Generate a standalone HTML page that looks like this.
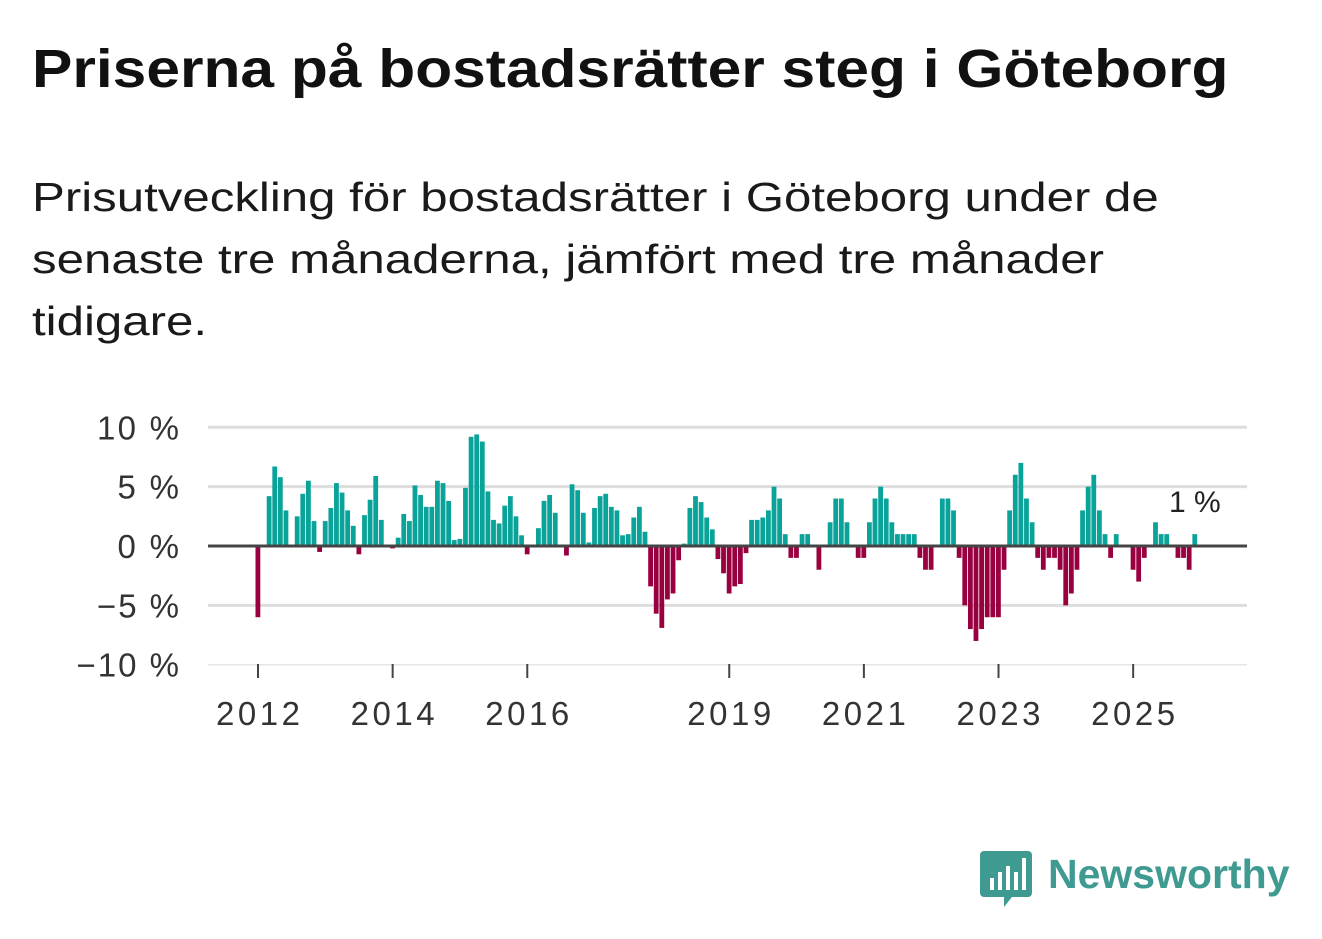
<!DOCTYPE html>
<html><head><meta charset="utf-8">
<style>
body{margin:0;background:#fff;width:1322px;height:939px;overflow:hidden;font-family:"Liberation Sans",sans-serif;color:#111}
h1{position:absolute;left:32px;top:38px;margin:0;font-size:54px;font-weight:700;transform:scaleX(1.12);transform-origin:left top;white-space:nowrap}
.sub{position:absolute;left:32px;top:166px;margin:0;font-size:41px;line-height:62px;width:1200px;color:#1a1a1a;transform:scaleX(1.2);transform-origin:left top;white-space:nowrap}
svg{position:absolute;left:0;top:0}
</style></head><body>
<h1>Priserna på bostadsrätter steg i Göteborg</h1>
<p class="sub">Prisutveckling för bostadsrätter i Göteborg under de<br>senaste tre månaderna, jämfört med tre månader<br>tidigare.</p>
<svg id="chart" width="1322" height="939"></svg>
<script>
const values = [-6,0,4.2,6.7,5.8,3.0,0,2.5,4.4,5.5,2.1,-0.5,
2.1,3.2,5.3,4.5,3.0,1.7,-0.7,2.6,3.9,5.9,2.2,0,
-0.2,0.7,2.7,2.1,5.1,4.3,3.3,3.3,5.5,5.3,3.8,0.5,
0.6,4.9,9.2,9.4,8.8,4.6,2.2,1.9,3.4,4.2,2.5,0.9,
-0.7,0,1.5,3.8,4.3,2.8,0,-0.8,5.2,4.7,2.8,0.3,
3.2,4.2,4.4,3.3,3.0,0.9,1.0,2.4,3.3,1.2,-3.4,-5.7,
-6.9,-4.5,-4.0,-1.2,0.2,3.2,4.2,3.7,2.4,1.4,-1.1,-2.3,
-4.0,-3.4,-3.2,-0.6,2.2,2.2,2.4,3.0,5.0,4.0,1.0,-1.0,
-1.0,1.0,1.0,0,-2.0,0,2.0,4.0,4.0,2.0,0,-1.0,
-1.0,2.0,4.0,5.0,4.0,2.0,1.0,1.0,1.0,1.0,-1.0,-2.0,
-2.0,0,4.0,4.0,3.0,-1.0,-5.0,-7.0,-8.0,-7.0,-6.0,-6.0,
-6.0,-2.0,3.0,6.0,7.0,4.0,2.0,-1.0,-2.0,-1.0,-1.0,-2.0,
-5.0,-4.0,-2.0,3.0,5.0,6.0,3.0,1.0,-1.0,1.0,0,0,
-2.0,-3.0,-1.0,0,2.0,1.0,1.0,0,-1.0,-1.0,-2.0,1.0];
const yTicks = [10,5,0,-5,-10];
const yTickLabels = ["10 %","5 %","0 %","−5 %","−10 %"];
const xTickYears = [2012,2014,2016,2019,2021,2023,2025];
const startYear = 2012;
const lastLabel = "1 %";

const NS="http://www.w3.org/2000/svg";
const svg=document.getElementById('chart');
const X0=258, MONTH=5.61, Y0=546, PER=11.87, L=208, R=1247;
const xm=i=>X0+i*MONTH;
const y=v=>Y0-v*PER;
function el(t,a){const e=document.createElementNS(NS,t);for(const k in a)e.setAttribute(k,a[k]);svg.appendChild(e);return e;}
yTicks.forEach((t,i)=>{
  if(t!==0){const g=el('line',{x1:L,x2:R,y1:y(t),y2:y(t),stroke:t===-10?'#e6e6e6':'#dddddd','stroke-width':t===-10?1.5:3});
  
  }
  const tx=el('text',{x:179,y:y(t)+12,'text-anchor':'end','font-size':33,fill:'#333','font-family':'Liberation Sans, sans-serif'});
  tx.textContent=yTickLabels[i];
  tx.setAttribute('textLength',yTickLabels[i].length*20.5);
  
  
});
values.forEach((v,i)=>{
  if(v===0)return;
  const r=el('rect',{x:xm(i)-2.5,width:4.8,y:v>0?y(v):Y0,height:Math.abs(v)*PER,fill:v>0?'#0aa39a':'#980040'});
  
  
});
const z=el('line',{x1:L,x2:R,y1:Y0,y2:Y0,stroke:'#444','stroke-width':3});


xTickYears.forEach(yr=>{
  const x=xm((yr-startYear)*12);
  const t=el('line',{x1:x,x2:x,y1:664,y2:678,stroke:'#444','stroke-width':2});
  
  
  const tx=el('text',{x:x-42,y:725,'font-size':33,fill:'#333','font-family':'Liberation Sans, sans-serif',textLength:84});
  tx.textContent=yr;
  
  
});
const li=values.length-1;
const lab=el('text',{x:xm(li),y:y(values[li])-22,'text-anchor':'middle','font-size':30,fill:'#222',stroke:'#fff','stroke-width':6,'paint-order':'stroke','font-family':'Liberation Sans, sans-serif'});
lab.textContent=lastLabel;


</script>
<svg width="1322" height="939">
  <path d="M984 851 h44 a4 4 0 0 1 4 4 v38 a4 4 0 0 1 -4 4 h-16 l-8 10 v-10 h-20 a4 4 0 0 1 -4 -4 v-38 a4 4 0 0 1 4 -4z" fill="#3f9a92"/>
  <rect x="990" y="878" width="4" height="12" fill="#fff"/>
  <rect x="998" y="872" width="4" height="18" fill="#fff"/>
  <rect x="1006" y="866" width="4" height="24" fill="#fff"/>
  <rect x="1014" y="872" width="4" height="18" fill="#fff"/>
  <rect x="1022" y="858" width="4" height="32" fill="#fff"/>
  <text x="1048" y="888" font-size="41" font-weight="700" fill="#3f9a92" font-family="Liberation Sans, sans-serif">Newsworthy</text>
</svg>
</body></html>
